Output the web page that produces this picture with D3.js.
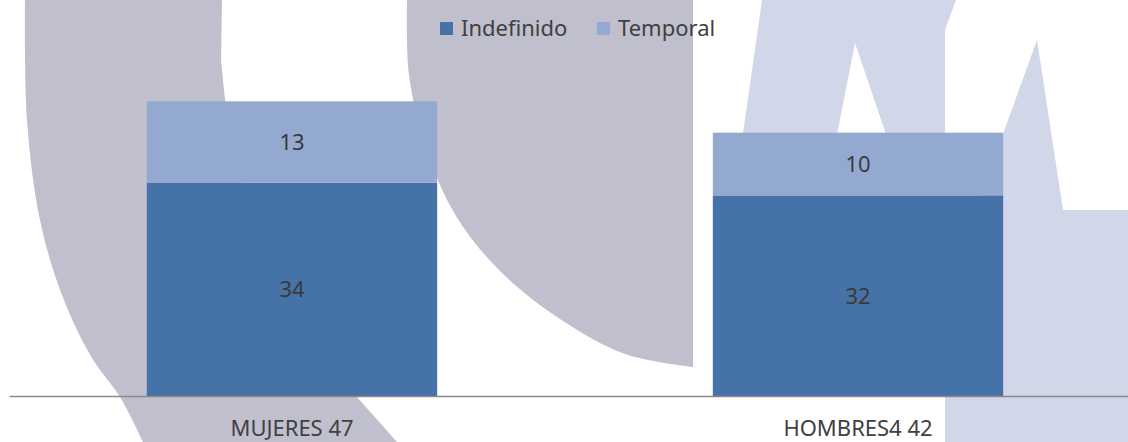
<!DOCTYPE html>
<html>
<head>
<meta charset="utf-8">
<script src="https://cdn.jsdelivr.net/npm/d3@7"></script>
<style>
  html, body { margin: 0; padding: 0; background: #ffffff; }
  svg text { font-family: "Noto Sans", "Open Sans", sans-serif; fill: #404040; }
</style>
</head>
<body>
<div id="chart"></div>
<script>
// chart data
var categories = ["MUJERES 47", "HOMBRES4 42"];
var seriesNames = ["Indefinido", "Temporal"];
var indefinido = [34, 32];
var temporal = [13, 10];

var width = 1128;
var height = 442;

var colors = { "Indefinido": "#4572a7", "Temporal": "#94a9d0" };

var svg = d3.select("#chart")
    .append("svg")
    .attr("width", width)
    .attr("height", height);

// background watermark (logo behind the chart)
var wm = svg.append("g").attr("class", "watermark");
var smooth = d3.line().curve(d3.curveCatmullRom.alpha(0.5));

// left grey arc
wm.append("path")
    .attr("fill", "#c0bfcd")
    .attr("d", smooth([[25, 0], [27, 120], [40, 220], [62, 295], [92, 358], [120, 397], [143, 442]]) +
        "L397,442L357,397L300,300L230,150L221,60L222,0Z");

// right grey block with curved bottom
wm.append("path")
    .attr("fill", "#c0bfcd")
    .attr("d", "M407,0L693,0L" +
        smooth([[693, 367], [625, 354], [560, 319], [500, 271], [456, 216], [426, 148], [409, 75], [407, 0]]).slice(1) + "Z");

// light lavender letter
wm.append("path")
    .attr("fill", "#d1d7e9")
    .attr("fill-rule", "evenodd")
    .attr("d", "M762,0L956,0L945,30L945,140L742,140Z M855,43L836,140L888,140Z");
wm.append("path")
    .attr("fill", "#d1d7e9")
    .attr("d", "M1037,40L1063,210L1128,210L1128,442L945,442L945,300L990,170Z");

var margin = { bottom: 46 };
var baseY = height - margin.bottom;

var x = d3.scaleBand()
    .domain(categories)
    .range([9, 1141])
    .paddingInner(0.487)
    .paddingOuter(0.2435);

var y = d3.scaleLinear()
    .domain([0, 50])
    .range([baseY, baseY - 313.5]);

var rows = categories.map(function(c, i) {
    return { cat: c, "Indefinido": indefinido[i], "Temporal": temporal[i] };
});

var stacked = d3.stack().keys(seriesNames)(rows);

var layers = svg.append("g").selectAll("g")
    .data(stacked)
    .join("g")
    .attr("fill", function(d) { return colors[d.key]; });

layers.selectAll("rect")
    .data(function(d) { return d; })
    .join("rect")
    .attr("x", function(d) { return x(d.data.cat); })
    .attr("width", x.bandwidth())
    .attr("y", function(d) { return y(d[1]); })
    .attr("height", function(d) { return y(d[0]) - y(d[1]); });

// value labels in the middle of each segment
layers.selectAll("text")
    .data(function(d) { return d.map(function(p) { return { p: p, key: d.key }; }); })
    .join("text")
    .attr("x", function(d) { return x(d.p.data.cat) + x.bandwidth() / 2; })
    .attr("y", function(d) { return (y(d.p[0]) + y(d.p[1])) / 2; })
    .attr("dy", "0.36em")
    .attr("text-anchor", "middle")
    .style("font-size", "22px")
    .style("fill", "#3a3a3a")
    .text(function(d) { return d.p.data[d.key]; });

// x axis
var xAxis = svg.append("g")
    .attr("transform", "translate(0," + baseY + ")")
    .call(d3.axisBottom(x).tickSize(0).tickPadding(24));

xAxis.select(".domain")
    .attr("stroke", "#8a8a8a")
    .attr("stroke-width", 1.3);

xAxis.selectAll("text")
    .style("font-size", "22px")
    .style("fill", "#404040")
    .style("font-family", "'Noto Sans', sans-serif");

// legend
var legend = svg.append("g").attr("class", "legend");
var legendX = [440, 597];

var items = legend.selectAll("g")
    .data(seriesNames)
    .join("g")
    .attr("transform", function(d, i) { return "translate(" + legendX[i] + ",22)"; });

items.append("rect")
    .attr("width", 13)
    .attr("height", 13)
    .attr("fill", function(d) { return colors[d]; });

items.append("text")
    .attr("x", 21)
    .attr("y", 14)
    .style("font-size", "22px")
    .text(function(d) { return d; });
</script>
</body>
</html>
